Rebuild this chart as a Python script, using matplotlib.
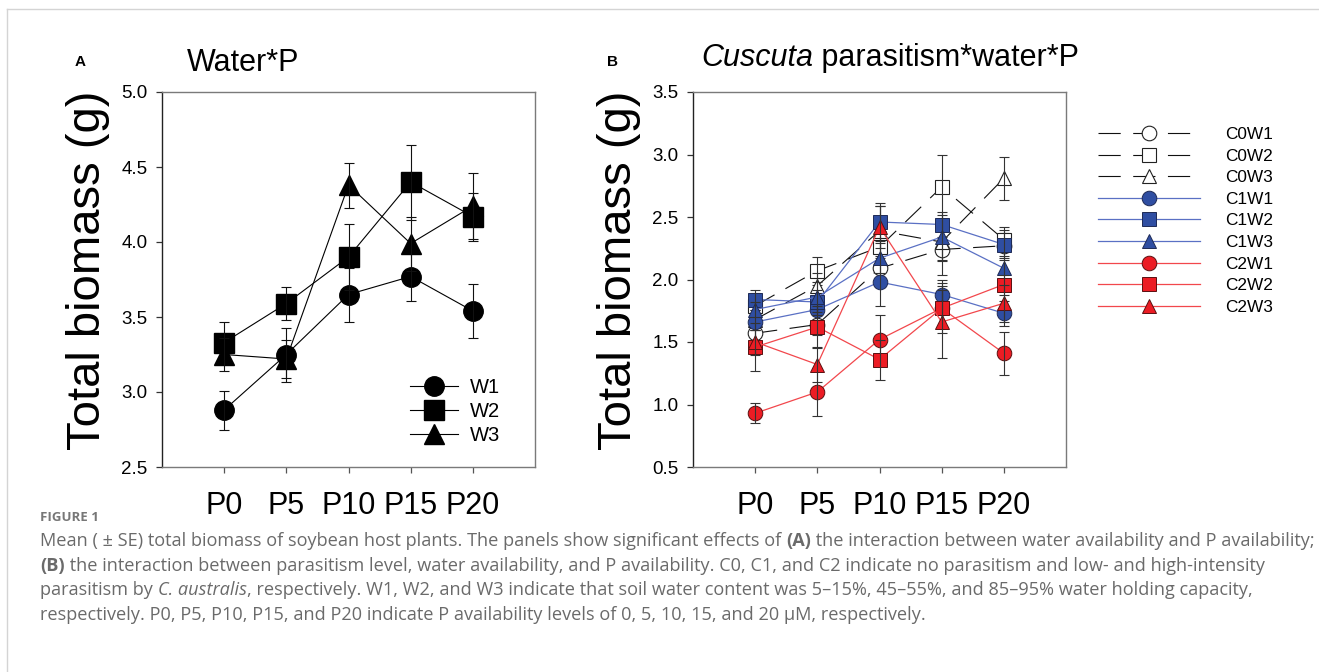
import matplotlib
matplotlib.use('Agg')
import matplotlib.pyplot as plt
import numpy as np

plt.rcParams['font.family'] = ['Liberation Sans', 'DejaVu Sans']
plt.rcParams['lines.scale_dashes'] = False

# ---------------- data ----------------
p_levels = ['P0', 'P5', 'P10', 'P15', 'P20']

# Panel A: Water*P
W1 = [2.88, 3.25, 3.65, 3.77, 3.54]
W1_se = [0.13, 0.18, 0.18, 0.16, 0.18]
W2 = [3.33, 3.59, 3.90, 4.40, 4.17]
W2_se = [0.14, 0.11, 0.22, 0.25, 0.16]
W3 = [3.25, 3.22, 4.38, 3.99, 4.24]
W3_se = [0.11, 0.13, 0.15, 0.18, 0.22]

# Panel B: Cuscuta parasitism*water*P
C0W1 = [1.57, 1.64, 2.09, 2.24, 2.27]
C0W1_se = [0.07, 0.08, 0.15, 0.20, 0.10]
C0W2 = [1.79, 2.07, 2.26, 2.74, 2.32]
C0W2_se = [0.10, 0.11, 0.12, 0.26, 0.10]
C0W3 = [1.68, 1.95, 2.39, 2.30, 2.81]
C0W3_se = [0.08, 0.10, 0.20, 0.15, 0.17]
C1W1 = [1.66, 1.76, 1.98, 1.88, 1.73]
C1W1_se = [0.06, 0.08, 0.19, 0.12, 0.10]
C1W2 = [1.84, 1.82, 2.46, 2.44, 2.28]
C1W2_se = [0.08, 0.10, 0.15, 0.10, 0.12]
C1W3 = [1.76, 1.86, 2.17, 2.34, 2.09]
C1W3_se = [0.06, 0.12, 0.12, 0.18, 0.10]
C2W1 = [0.93, 1.10, 1.52, 1.77, 1.41]
C2W1_se = [0.08, 0.19, 0.20, 0.15, 0.17]
C2W2 = [1.46, 1.62, 1.36, 1.77, 1.96]
C2W2_se = [0.19, 0.17, 0.16, 0.20, 0.08]
C2W3 = [1.50, 1.32, 2.42, 1.66, 1.81]
C2W3_se = [0.10, 0.14, 0.17, 0.29, 0.15]

# ---------------- figure ----------------
W, H = 1319, 672
fig = plt.figure(figsize=(W / 100, H / 100), dpi=100)

def px_axes(l, t, r, b):
    return [l / W, 1 - b / H, (r - l) / W, (b - t) / H]

axA = fig.add_axes(px_axes(162, 92, 535, 467))
axB = fig.add_axes(px_axes(693, 92, 1066, 467))
x = np.arange(len(p_levels))

def style_axes(ax, ylim, yticks):
    ax.set_xlim(-1, 5)
    ax.set_ylim(*ylim)
    ax.set_yticks(yticks)
    ax.set_yticklabels(['%.1f' % v for v in yticks])
    ax.set_xticks(x)
    ax.set_xticklabels(p_levels)
    for s in ['top', 'right', 'bottom']:
        ax.spines[s].set_color('#7a7a7a')
        ax.spines[s].set_linewidth(1.0)
    ax.spines['left'].set_color('#222222')
    ax.spines['left'].set_linewidth(1.0)
    ax.tick_params(axis='y', direction='out', length=4.5, width=0.9,
                   color='#333333', labelsize=13.5, pad=6)
    ax.tick_params(axis='x', direction='out', length=4.5, width=0.9,
                   color='#555555', labelsize=22, pad=13)
    ax.set_ylabel('Total biomass (g)', fontsize=34, labelpad=8)
    ax.yaxis.label.set_y(0.525)

# Panel A
seriesA = [(W1, W1_se, 'o', 'W1'), (W2, W2_se, 's', 'W2'), (W3, W3_se, '^', 'W3')]
for i, (vals, se, m, lab) in enumerate(seriesA):
    axA.plot(x, vals, '-', color='black', lw=0.8, marker=m, ms=14,
             mfc='black', mec='black', label=lab, zorder=3 + i)
    axA.errorbar(x, vals, yerr=se, fmt='none', ecolor='#111111', elinewidth=0.8,
                 capsize=3.7, capthick=0.8, zorder=3.5 + i)
style_axes(axA, (2.5, 5.0), [2.5, 3.0, 3.5, 4.0, 4.5, 5.0])
axA.legend(loc='upper left', bbox_to_anchor=((410 - 162) / 373, (467 - 378) / 375),
           frameon=False, fontsize=14.5, handlelength=2.4, handletextpad=0.55,
           labelspacing=0.245, borderpad=0, borderaxespad=0, numpoints=1)

# Panel B
blue_face, blue_line = '#2f4ea2', '#5a70c4'
red_face, red_line = '#ec1c24', '#f2474c'
seriesB = [
    (C0W1, C0W1_se, 'o', 'C0W1', 'C0'), (C0W2, C0W2_se, 's', 'C0W2', 'C0'),
    (C0W3, C0W3_se, '^', 'C0W3', 'C0'),
    (C1W1, C1W1_se, 'o', 'C1W1', 'C1'), (C1W2, C1W2_se, 's', 'C1W2', 'C1'),
    (C1W3, C1W3_se, '^', 'C1W3', 'C1'),
    (C2W1, C2W1_se, 'o', 'C2W1', 'C2'), (C2W2, C2W2_se, 's', 'C2W2', 'C2'),
    (C2W3, C2W3_se, '^', 'C2W3', 'C2'),
]
handles = []
for i, (vals, se, m, lab, grp) in enumerate(seriesB):
    ms = 10.5 if m == 'o' else (9.5 if m == 's' else 10.5)
    if grp == 'C0':
        ln, = axB.plot(x, vals, color='#111111', lw=0.8, dashes=(16, 9),
                       marker=m, ms=ms, mfc='white', mec='#222222', mew=0.8,
                       label=lab, zorder=3 + i)
    elif grp == 'C1':
        ln, = axB.plot(x, vals, '-', color=blue_line, lw=0.9, marker=m, ms=ms,
                       mfc=blue_face, mec='#1e2a55', mew=0.7, label=lab, zorder=3 + i)
    else:
        ln, = axB.plot(x, vals, '-', color=red_line, lw=0.9, marker=m, ms=ms,
                       mfc=red_face, mec='#5a1010', mew=0.7, label=lab, zorder=3 + i)
    axB.errorbar(x, vals, yerr=se, fmt='none', ecolor='#333333', elinewidth=0.8,
                 capsize=3.7, capthick=0.8, zorder=3.5 + i)
    handles.append(ln)
style_axes(axB, (0.5, 3.5), [0.5, 1.0, 1.5, 2.0, 2.5, 3.0, 3.5])
fig.legend(handles=handles, loc='upper left', bbox_to_anchor=(1098 / W, 1 - 127 / H),
           frameon=False, fontsize=12.4, handlelength=5.9, handletextpad=1.5,
           labelspacing=0.38, borderpad=0, borderaxespad=0, numpoints=1)

# ---------------- texts ----------------
renderer = fig.canvas.get_renderer()

def draw_runs(x_px, y_px, runs, size, color, family, ha='left'):
    made = []
    xx = x_px
    for text, st in runs:
        kw = dict(fontsize=size, color=color, family=family, va='baseline', ha='left')
        if 'b' in st:
            kw['fontweight'] = 'bold'
        if 'i' in st:
            kw['fontstyle'] = 'italic'
        t = fig.text(xx / W, 1 - y_px / H, text, **kw)
        bb = t.get_window_extent(renderer)
        xx = bb.x1
        made.append(t)
    if ha == 'center':
        total = xx - x_px
        shift = total / 2
        for t in made:
            px, py = t.get_position()
            t.set_position((px - shift / W, py))
    return xx

lab_font = ['Liberation Sans', 'DejaVu Sans']
fig.text(80 / W, 1 - 66 / H, 'A', fontsize=11, fontweight='bold', family=lab_font,
         ha='center', va='baseline')
fig.text(613 / W, 1 - 66 / H, 'B', fontsize=11, fontweight='bold', family=lab_font,
         ha='center', va='baseline')
draw_runs(243, 71, [('Water*P', '')], 22, 'black', lab_font, ha='center')
draw_runs(890, 66, [('Cuscuta', 'i'), (' parasitism*water*P', '')], 22, 'black',
          lab_font, ha='center')

cap_font = ['Open Sans', 'DejaVu Sans']
cap_col = '#6a6a6a'
cap_size = 13.05
fig.text(40 / W, 1 - 521 / H, 'FIGURE 1', fontsize=9.5, fontweight='bold',
         family=cap_font, color='#777777', va='baseline')
lines = [
    [('Mean ( \u00b1 SE) total biomass of soybean host plants. The panels show significant effects of ', ''),
     ('(A)', 'b'), (' the interaction between water availability and P availability;', '')],
    [('(B)', 'b'), (' the interaction between parasitism level, water availability, and P availability. '
                    'C0, C1, and C2 indicate no parasitism and low- and high-intensity', '')],
    [('parasitism by ', ''), ('C. australis', 'i'),
     (', respectively. W1, W2, and W3 indicate that soil water content was 5\u201315%, 45\u201355%, '
      'and 85\u201395% water holding capacity,', '')],
    [('respectively. P0, P5, P10, P15, and P20 indicate P availability levels of 0, 5, 10, 15, '
      'and 20 \u03bcM, respectively.', '')],
]
for k, runs in enumerate(lines):
    draw_runs(40, 546 + 24.7 * k, runs, cap_size, cap_col, cap_font)

# thin frame lines
fig.add_artist(plt.Line2D([7 / W, 1], [1 - 9 / H, 1 - 9 / H], color='#d4d4d4', lw=1.0))
fig.add_artist(plt.Line2D([7 / W, 7 / W], [0, 1 - 9 / H], color='#d4d4d4', lw=1.0))

fig.savefig('out.png', dpi=100)
